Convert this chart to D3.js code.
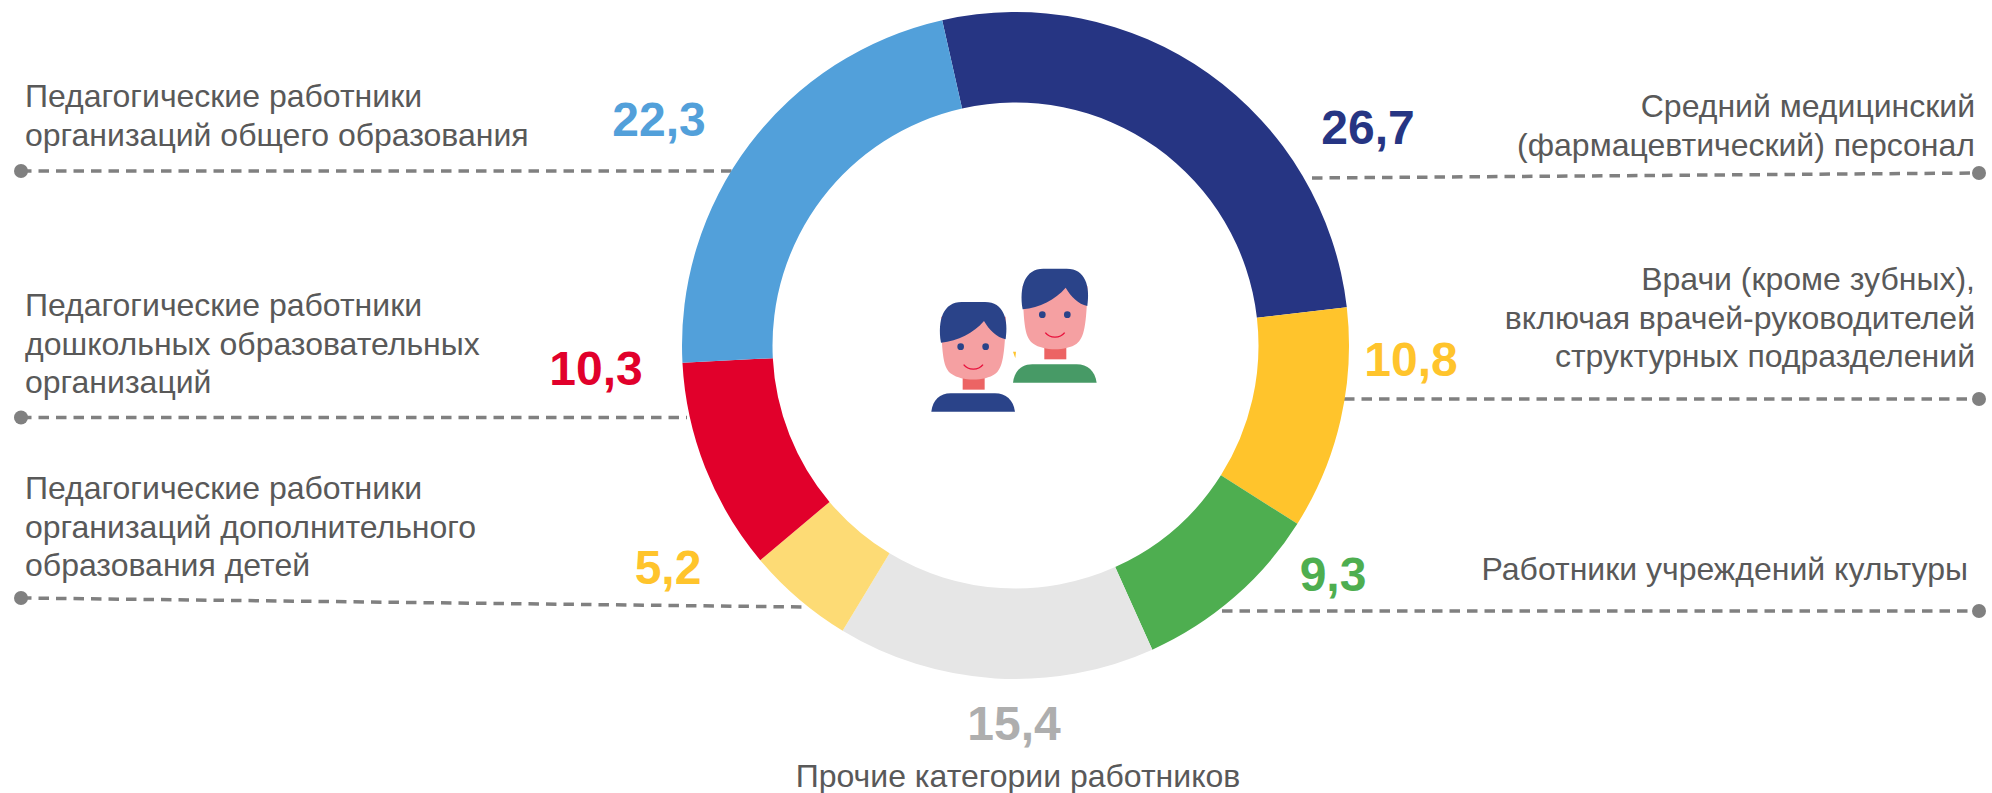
<!DOCTYPE html>
<html><head><meta charset="utf-8">
<script src="https://cdn.jsdelivr.net/npm/d3@7"></script>
<style>html,body{margin:0;padding:0;background:#fff}svg{display:block}text{font-family:"Liberation Sans",Arial,sans-serif}</style>
</head><body><svg id="c" width="1992" height="793"></svg>
<script>
const categories = [
  "Средний медицинский\n(фармацевтический) персонал",
  "Врачи (кроме зубных),\nвключая врачей-руководителей\nструктурных подразделений",
  "Работники учреждений культуры",
  "Прочие категории работников",
  "Педагогические работники\nорганизаций дополнительного\nобразования детей",
  "Педагогические работники\nдошкольных образовательных\nорганизаций",
  "Педагогические работники\nорганизаций общего образования"
];
const values = [26.7, 10.8, 9.3, 15.4, 5.2, 10.3, 22.3];
const sliceColors = ["#263583","#FFC42C","#4EAE50","#E6E6E6","#FDDB75","#E1002B","#52A0DA"];
const valueColors = ["#263583","#FFC42C","#4EAE50","#AEAEAE","#FFC42C","#E1002B","#52A0DA"];

// Layout, kept apart from the data
const cx = 1015.5, cy = 345.5, rO = 333.5, rI = 243, startDeg = -12.7;
const valuePos = [[1368,144],[1411,376],[1333,591],[1014,740],[668,584],[596,385],[659,136]];
const textPos = [
  {x:1975,y:117,a:"end"},{x:1975,y:290,a:"end"},{x:1968,y:580,a:"end"},
  {x:1018,y:787,a:"middle"},{x:25,y:499,a:"start"},{x:25,y:316,a:"start"},{x:25,y:107,a:"start"}
];
const leaders = [
  [[1312,178],[1979,173]],[[1344,399],[1979,399]],[[1222,611],[1979,611]],null,
  [[21,598],[804,607]],[[21,417.5],[687,417.5]],[[21,171],[734,171]]
];

const svg = d3.select("#c");
const toRad = d => d*Math.PI/180;
const pie = d3.pie().sort(null).startAngle(toRad(startDeg)).endAngle(toRad(startDeg+360));
const arc = d3.arc().innerRadius(rI).outerRadius(rO);
const line = d3.line();

leaders.forEach(l => {
  if(!l) return;
  svg.append("path").attr("d", line(l)).attr("fill","none").attr("stroke","#808080")
    .attr("stroke-width",3.5).attr("stroke-dasharray","10.5 7");
});
leaders.forEach(l => {
  if(!l) return;
  const end = l[0][0] < 100 ? l[0] : l[1];
  svg.append("circle").attr("cx",end[0]).attr("cy",end[1]).attr("r",7).attr("fill","#808080");
});

svg.append("g").attr("transform",`translate(${cx},${cy})`)
  .selectAll("path").data(pie(values)).join("path")
  .attr("d",arc).attr("fill",(d,i)=>sliceColors[i]);

categories.forEach((c,i)=>{
  const p = textPos[i];
  const t = svg.append("text").attr("text-anchor",p.a).attr("fill","#595959").attr("font-size",32);
  c.split("\n").forEach((s,j)=>t.append("tspan").attr("x",p.x).attr("y",p.y+j*38.7).text(s));
});
values.forEach((v,i)=>{
  svg.append("text").attr("x",valuePos[i][0]).attr("y",valuePos[i][1]).attr("text-anchor","middle")
    .attr("font-size",48).attr("font-weight","bold").attr("fill",valueColors[i])
    .text(String(v.toFixed(1)).replace(".",","));
});

// Centre icon: two people
function person(g, hair, shirt, o){
  g.append("path").attr("transform",`translate(${o.x},${o.shirt})`).attr("fill",shirt).attr("d","M154 515 C158 480 180 460 212 460 L345 460 C378 460 400 480 405 515 Z");
  g.append("rect").attr("transform",`translate(${o.x},${o.neck})`).attr("x",248).attr("y",405).attr("width",66).attr("height",44).attr("fill","#EC6464");
  g.append("path").attr("transform",`translate(${o.x},${o.neck})`).attr("fill","#F5A0A2").attr("d","M183 230 C186 350 190 385 215 402 C245 424 315 424 345 402 C368 385 374 350 378 230 Z");
  g.append("path").attr("transform",`translate(${o.x},${o.hair})`).attr("fill",hair).attr("d","M183 308 C172 240 190 186 245 186 L315 186 C372 186 386 240 377 298 C350 292 328 270 312 243 C280 280 235 302 183 308 Z");
  g.append("circle").attr("transform",`translate(${o.x},${o.eye})`).attr("cx",242).attr("cy",320).attr("r",10).attr("fill",hair);
  g.append("circle").attr("transform",`translate(${o.x},${o.eye})`).attr("cx",317).attr("cy",320).attr("r",10).attr("fill",hair);
  g.append("path").attr("transform",`translate(${o.x},${o.eye+2})`).attr("fill","none").attr("stroke","#E8113C").attr("stroke-width",4).attr("d","M251 372 C265 390 295 390 309 372");
}
const icon = svg.append("g").attr("transform","translate(880,240) scale(0.3333)");
person(icon.append("g"),"#2A4389","#2A4389",{x:0,shirt:0,neck:0,hair:0,eye:0});
person(icon.append("g"),"#2A4389","#479A66",{x:245,shirt:-87,neck:-91,hair:-100,eye:-96});
icon.append("path").attr("fill","#FFC42C").attr("d","M399 335 L408 335 L406 355 Z");
</script></body></html>
